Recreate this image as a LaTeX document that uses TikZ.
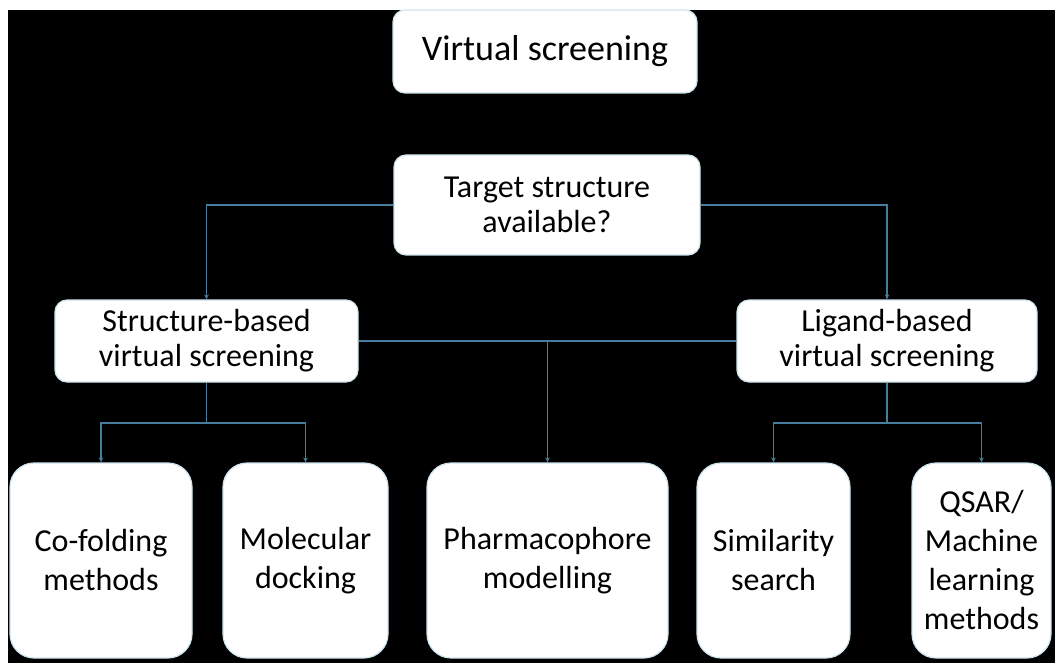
\documentclass[tikz,border=0pt]{standalone}
\usepackage{fontspec}
\setmainfont{Carlito}
\usetikzlibrary{arrows.meta}
\definecolor{conncol}{RGB}{70,125,155}
\definecolor{edgecol}{RGB}{205,228,238}
\begin{document}
\begin{tikzpicture}[x=1pt,y=-1pt,
  box/.style={draw=edgecol, line width=1.2pt, fill=white, rounded corners=12pt,
    align=center, inner sep=0pt, font=\fontsize{32}{35}\selectfont},
  bigbox/.style={box, rounded corners=24pt, minimum height=195pt, font=\fontsize{32}{39}\selectfont},
  conn/.style={draw=conncol, line width=1.2pt},
  arr/.style={conn, -{Stealth[length=5pt,width=4.5pt]}}]
\useasboundingbox (0,0) rectangle (1055,663);
\fill[white] (0,0) rectangle (1055,663);
\fill[black] (8,10) rectangle (1055,663);
% level 0
\node[box, minimum width=304pt, minimum height=83pt, font=\fontsize{36}{40}\selectfont] (vs) at (545,51.5) {Virtual screening};
% level 1
\node[box, minimum width=306pt, minimum height=100pt] (tg) at (547,205) {Target structure\\available?};
% level 2
\node[box, minimum width=303pt, minimum height=82pt] (sb) at (206.5,341) {Structure-based\\virtual screening};
\node[box, minimum width=300pt, minimum height=82pt] (lb) at (887,341) {Ligand-based\\virtual screening};
% level 3
\node[bigbox, minimum width=182pt] (cf) at (101,560.5) {Co-folding\\methods};
\node[bigbox, minimum width=165pt] (md) at (305.5,560.5) {Molecular\\docking};
\node[bigbox, minimum width=241pt] (ph) at (547.5,560.5) {Pharmacophore\\modelling};
\node[bigbox, minimum width=153pt] (ss) at (773.5,560.5) {Similarity\\search};
\node[bigbox, minimum width=139pt] (qs) at (981.5,560.5) {QSAR/\\Machine\\learning\\methods};
% junctions
\coordinate (sbj) at (206.5,423);
\coordinate (lbj) at (887,423);
% connectors
\draw[arr] (tg.west) -| (sb.north);
\draw[arr] (tg.east) -| (lb.north);
\draw[conn] (sb.east) -- (lb.west);
\draw[arr] (ph.north |- sb.east) -- (ph.north);
\draw[conn] (sb.south) -- (sbj);
\draw[arr] (sbj) -| (cf.north);
\draw[arr] (sbj) -| (md.north);
\draw[conn] (lb.south) -- (lbj);
\draw[arr] (lbj) -| (ss.north);
\draw[arr] (lbj) -| (qs.north);
\end{tikzpicture}
\end{document}
